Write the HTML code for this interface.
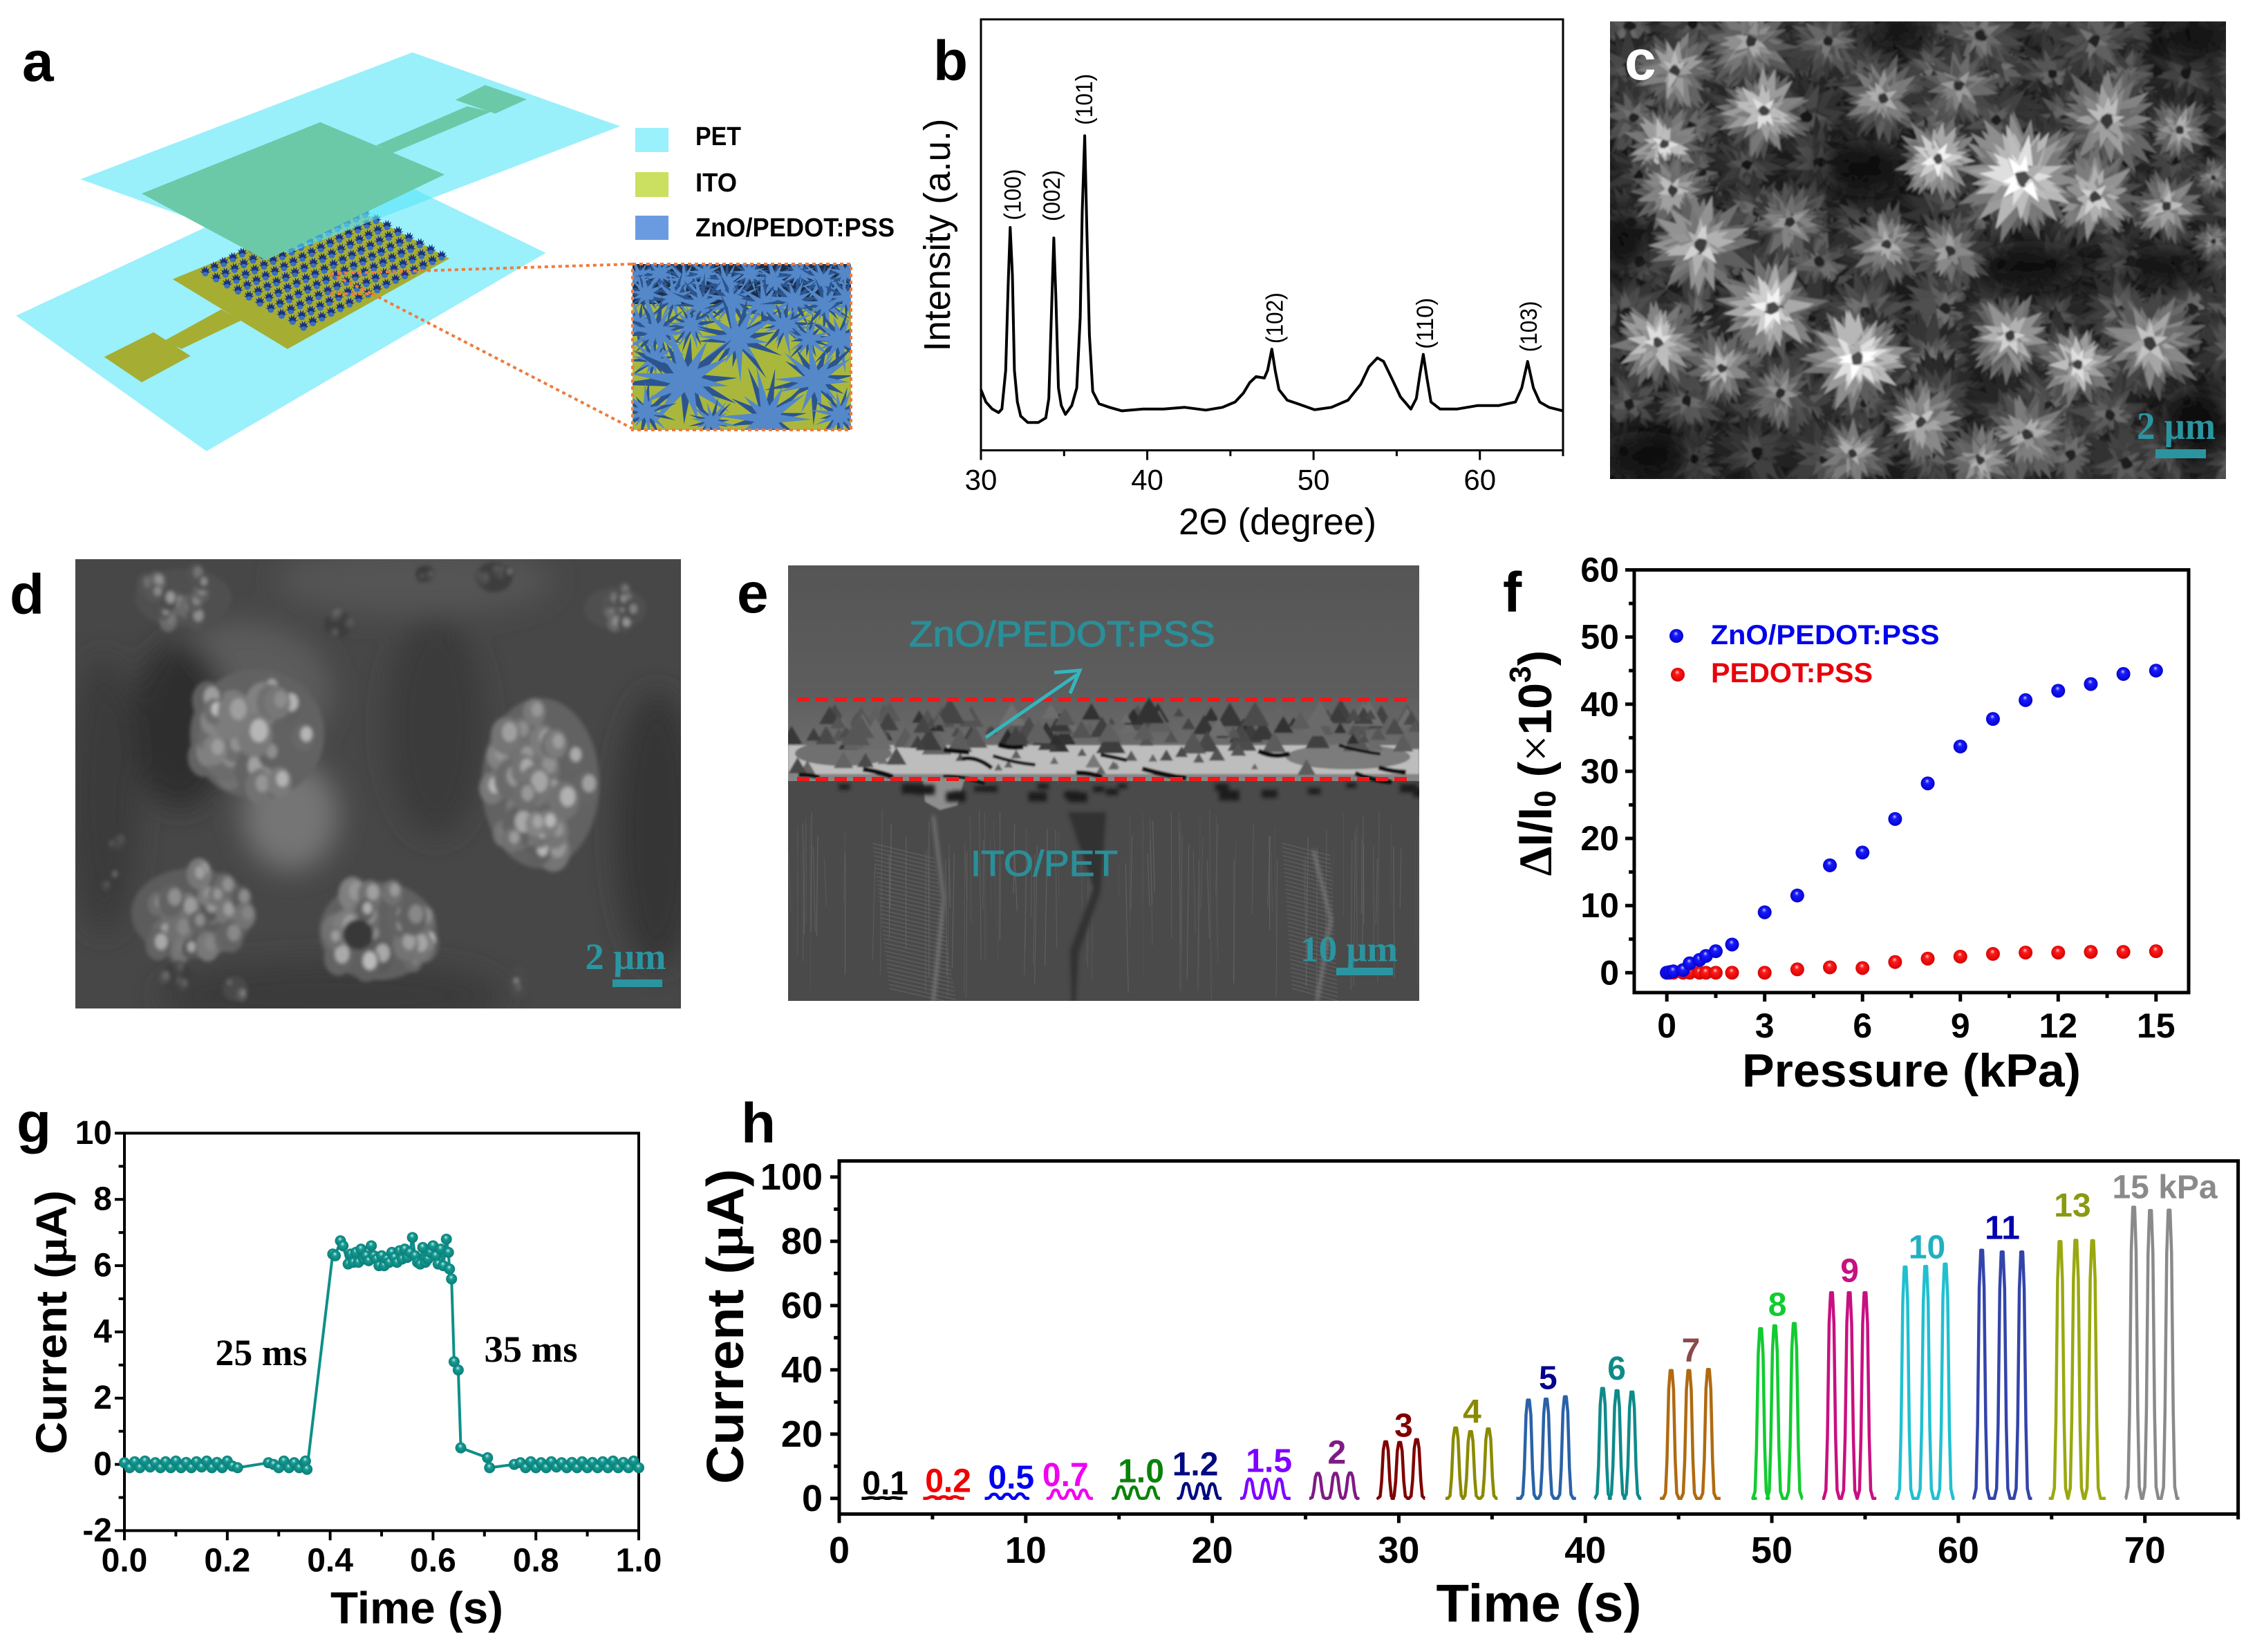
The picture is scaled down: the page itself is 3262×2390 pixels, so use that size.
<!DOCTYPE html>
<html lang="en">
<head>
<meta charset="utf-8">
<title>ZnO/PEDOT:PSS pressure sensor figure</title>
<style>
html,body{margin:0;padding:0;background:#fff}
svg{display:block}
text{font-family:"Liberation Sans",sans-serif}
.serif{font-family:"Liberation Serif",serif}
.letter{font-weight:700;font-size:82px;fill:#000}
</style>
</head>
<body>
<svg id="root" xmlns="http://www.w3.org/2000/svg" width="3262" height="2390" viewBox="0 0 3262 2390">
<defs>
<radialGradient id="ballBlue" cx=".5" cy=".5" r=".55" fx=".45" fy=".3"><stop offset="0" stop-color="#c8c8ff"/><stop offset=".3" stop-color="#1a1aff"/><stop offset="1" stop-color="#0000c8"/></radialGradient>
<radialGradient id="ballRed" cx=".5" cy=".5" r=".55" fx=".45" fy=".3"><stop offset="0" stop-color="#ffd0d0"/><stop offset=".3" stop-color="#ff1a1a"/><stop offset="1" stop-color="#d00000"/></radialGradient>
<radialGradient id="ballTeal" cx=".5" cy=".5" r=".55" fx=".45" fy=".3"><stop offset="0" stop-color="#c8f0ec"/><stop offset=".35" stop-color="#149a92"/><stop offset="1" stop-color="#0a7a74"/></radialGradient>
<filter id="blur1" x="-5%" y="-5%" width="110%" height="110%"><feGaussianBlur stdDeviation="1.3"/></filter>
<filter id="blur3" x="-20%" y="-20%" width="140%" height="140%"><feGaussianBlur stdDeviation="3"/></filter>
<filter id="blur20" x="-50%" y="-50%" width="200%" height="200%"><feGaussianBlur stdDeviation="20"/></filter>
<clipPath id="clipC"><rect x="2329" y="31" width="891" height="662"/></clipPath>
<clipPath id="clipD"><rect x="109" y="809" width="876" height="650"/></clipPath>
<clipPath id="clipE"><rect x="1140" y="818" width="913" height="630"/></clipPath>
<clipPath id="clipInset"><rect x="915" y="382" width="316" height="240"/></clipPath>
<linearGradient id="eTop" x1="0" y1="0" x2="0" y2="1"><stop offset="0" stop-color="#555"/><stop offset="1" stop-color="#5e5e5e"/></linearGradient>
<linearGradient id="eBand" x1="0" y1="0" x2="0" y2="1"><stop offset="0" stop-color="#606060"/><stop offset=".5" stop-color="#6a6a6a"/><stop offset="1" stop-color="#8a8a8a"/></linearGradient>
</defs>
<rect x="0" y="0" width="3262" height="2390" fill="#fff"/>

<!-- Panel a -->
<g>
  <g id="aGroup" transform="scale(0.861,0.459)">
    <polygon points="27,995 591,501 917,797 347,1422" fill="#9af0fb"/>
    <polygon points="175,1125 258,1047 320,1122 238,1205" fill="#a5ae32"/>
    <polygon points="275,1075 372,975 405,1010 305,1100" fill="#a5ae32"/>
    <polygon points="290,880 590,650 755,815 483,1100" fill="#a5ae32"/>
    <g id="aArray"></g>
    <polygon points="135,565 693,165 1042,398 484,798" fill="rgb(90,230,249)" opacity=".62"/>
    <polygon points="632,458 785,335 825,352 660,482" fill="#6cc9a8"/>
    <polygon points="765,315 815,268 885,313 832,358" fill="#6cc9a8"/>
    <polygon points="238,610 538,385 747,550 447,820" fill="#6bc9a8"/>
  </g>
  <rect x="919" y="185" width="48" height="35" fill="#9af0fb"/>
  <rect x="919" y="249" width="48" height="36" fill="#cbe060"/>
  <rect x="919" y="312" width="48" height="35" fill="#6a9be0"/>
  <text x="1006" y="198" font-size="38" font-weight="700" dominant-baseline="central" textLength="66" lengthAdjust="spacingAndGlyphs">PET</text>
  <text x="1006" y="265" font-size="38" font-weight="700" dominant-baseline="central" textLength="60" lengthAdjust="spacingAndGlyphs">ITO</text>
  <text x="1006" y="330" font-size="38" font-weight="700" dominant-baseline="central" textLength="288" lengthAdjust="spacingAndGlyphs">ZnO/PEDOT:PSS</text>
  <g id="aInset" clip-path="url(#clipInset)">
    <rect x="915" y="382" width="316" height="240" fill="#a9b83c"/>
    <rect x="915" y="382" width="316" height="58" fill="#1d2f48"/>
  </g>
  <g fill="none" stroke="#ef7b3d" stroke-width="4" stroke-dasharray="5 5">
    <rect x="915" y="382" width="316" height="240"/>
    <polyline points="478,396 915,382"/>
    <polyline points="478,425 538,425 915,620"/>
    <polyline points="478,396 538,425"/>
  </g>
</g>
<text class="letter" x="32" y="117">a</text>

<!-- Panel b -->
<g id="panelB"></g>
<text class="letter" x="1350" y="116">b</text>

<!-- Panel c -->
<g>
  <g clip-path="url(#clipC)">
    <rect x="2329" y="31" width="891" height="662" fill="#1a1a1a"/>
    <g id="cFlowers" filter="url(#blur1)"></g>
  </g>
  <text class="serif" x="3148" y="617" font-size="56" font-weight="700" fill="#2a95a0" text-anchor="middle" dominant-baseline="central" textLength="114" lengthAdjust="spacingAndGlyphs">2 μm</text>
  <rect x="3118" y="650" width="73" height="13" fill="#2a95a0"/>
</g>
<text class="letter" x="2350" y="115" style="fill:#fff">c</text>

<!-- Panel d -->
<g>
  <g clip-path="url(#clipD)">
    <rect x="109" y="809" width="876" height="650" fill="#474747"/>
    <g id="dBlobs"></g>
  </g>
  <text class="serif" x="905" y="1384" font-size="54" font-weight="700" fill="#2a95a0" text-anchor="middle" dominant-baseline="central" textLength="117" lengthAdjust="spacingAndGlyphs">2 μm</text>
  <rect x="886" y="1417" width="72" height="11" fill="#2a95a0"/>
</g>
<text class="letter" x="14" y="888">d</text>

<!-- Panel e -->
<g>
  <g clip-path="url(#clipE)">
    <rect x="1140" y="818" width="913" height="200" fill="url(#eTop)"/>
    <rect x="1140" y="1010" width="913" height="125" fill="url(#eBand)"/>
    <rect x="1140" y="1130" width="913" height="320" fill="#4a4a4a"/>
    <g id="eDetail"></g>
  </g>
  <line x1="1153" y1="1012" x2="2038" y2="1012" stroke="#f01818" stroke-width="6" stroke-dasharray="18 9"/>
  <line x1="1153" y1="1127" x2="2038" y2="1127" stroke="#f01818" stroke-width="6" stroke-dasharray="18 9"/>
  <line x1="1426" y1="1067" x2="1558" y2="976" stroke="#35b5bd" stroke-width="5"/>
  <polyline points="1525,973 1562,970 1548,1003" fill="none" stroke="#35b5bd" stroke-width="5"/>
  <text x="1315" y="918" font-size="52" fill="#2a8f98" stroke="#2a8f98" stroke-width="1.2" dominant-baseline="central" textLength="443" lengthAdjust="spacingAndGlyphs">ZnO/PEDOT:PSS</text>
  <text x="1404" y="1250" font-size="52" fill="#2a8f98" stroke="#2a8f98" stroke-width="1.2" dominant-baseline="central" textLength="213" lengthAdjust="spacingAndGlyphs">ITO/PET</text>
  <text class="serif" x="1881" y="1374" font-size="52" font-weight="700" fill="#2a95a0" dominant-baseline="central" textLength="141" lengthAdjust="spacingAndGlyphs">10 μm</text>
  <rect x="1933" y="1400" width="82" height="11" fill="#2a95a0"/>
</g>
<text class="letter" x="1066" y="886">e</text>

<!-- Panel f -->
<g id="panelF"></g>
<text class="letter" x="2174" y="885">f</text>

<!-- Panel g -->
<g id="panelG"></g>
<text class="letter" x="24" y="1652">g</text>

<!-- Panel h -->
<g id="panelH"></g>
<text class="letter" x="1072" y="1653">h</text>
</svg>

<script>
/* ===== Panel b data ===== */
const xrdTheta = [30.00,30.30,30.68,31.06,31.26,31.49,31.64,31.76,31.89,32.01,32.19,32.39,32.82,33.45,33.90,34.08,34.23,34.38,34.51,34.66,34.83,35.08,35.46,35.76,35.97,36.09,36.24,36.37,36.52,36.72,37.10,37.73,38.48,39.74,40.99,42.26,43.52,44.52,45.28,45.78,46.16,46.54,47.04,47.24,47.49,47.69,47.92,48.42,49.05,50.06,51.07,52.07,52.83,53.33,53.84,54.21,54.72,55.22,55.85,56.18,56.40,56.60,56.81,57.06,57.61,58.62,59.88,61.14,62.14,62.52,62.87,63.22,63.60,64.16,65.00];
const xrdIntensity = [172,137,117,107,117,227,477,632,497,227,137,97,79,79,92,147,377,602,427,177,127,102,127,177,377,677,892,627,327,167,132,122,112,117,117,122,114,122,137,162,192,209,205,227,287,227,172,142,132,115,122,142,187,237,262,252,202,152,117,147,217,272,207,137,117,117,127,127,137,177,252,177,137,122,112];
const xrdMajorTicks = [30,40,50,60];
const xrdMinorTicks = [35,45,55,65];
const xrdPeakLabels = ['(100)','(002)','(101)','(102)','(110)','(103)'];
const xrdPeakTheta = [31.94,34.28,36.24,47.69,56.73,62.97];
const xrdPeakLevel = [725,722,995,375,360,351];

/* ===== Panel f data ===== */
const fPressureBlue = [0,0.1,0.2,0.5,0.7,1,1.2,1.5,2,3,4,5,6,7,8,9,10,11,12,13,14,15];
const fBlue = [0,0.1,0.2,0.4,1.4,1.9,2.5,3.2,4.2,9,11.5,16,17.9,22.9,28.2,33.7,37.8,40.6,42,43,44.5,45];
const fPressureRed = [0,0.1,0.2,0.5,0.7,1,1.2,1.5,2,3,4,5,6,7,8,9,10,11,12,13,14,15];
const fRed = [0,0,0,0,0,0,0,0,0,0,0.5,0.8,0.7,1.6,2.1,2.4,2.8,3,3,3.1,3.1,3.2];
const fXMajor = [0,3,6,9,12,15];
const fXMinor = [1.5,4.5,7.5,10.5,13.5];
const fYMajor = [0,10,20,30,40,50,60];
const fYMinor = [5,15,25,35,45,55];

/* ===== Panel g data ===== */
const gTime = [0,0.01,0.02,0.03,0.04,0.05,0.06,0.07,0.08,0.09,0.10,0.11,0.12,0.13,0.14,0.15,0.16,0.17,0.18,0.19,0.20,0.21,0.22,0.28,0.29,0.30,0.31,0.32,0.33,0.34,0.35,0.352,0.355,0.405,0.41,0.42,0.425,0.435,0.44,0.445,0.45,0.455,0.46,0.465,0.47,0.475,0.48,0.485,0.49,0.495,0.50,0.505,0.51,0.515,0.52,0.525,0.53,0.535,0.54,0.545,0.55,0.555,0.56,0.565,0.57,0.575,0.58,0.585,0.59,0.595,0.60,0.605,0.61,0.615,0.62,0.626,0.63,0.632,0.636,0.641,0.649,0.654,0.706,0.71,0.758,0.77,0.78,0.79,0.80,0.81,0.82,0.83,0.84,0.85,0.86,0.87,0.88,0.89,0.90,0.91,0.92,0.93,0.94,0.95,0.96,0.97,0.98,0.99,1.0];
const gCurrent = [0.05,-0.1,0.08,-0.1,0.1,-0.08,0.05,-0.1,0.08,-0.1,0.1,-0.1,0.06,-0.1,0.08,-0.08,0.1,-0.1,0.06,-0.1,0.1,-0.05,-0.1,0.05,0,-0.1,0.1,-0.1,0.05,-0.1,0.05,0.1,-0.15,6.35,6.3,6.75,6.6,6.05,6.35,6.1,6.4,6.1,6.5,6.2,6.3,6.15,6.6,6.3,6.2,6,6.3,6,6.2,6.1,6.4,6.25,6.1,6.45,6.2,6.5,6.25,6.4,6.85,6.3,6.1,6.05,6.55,6.1,6.2,6.4,6.6,6.3,6.05,6.5,6,6.8,6.4,5.9,5.6,3.1,2.85,0.5,0.2,-0.1,0,0.05,-0.1,0.08,-0.1,0.05,-0.1,0.08,-0.08,0.05,-0.1,0.06,-0.1,0.08,-0.1,0.06,-0.1,0.08,-0.1,0.1,-0.1,0.06,-0.1,0.1,-0.1];
const gXMajor = [0,0.2,0.4,0.6,0.8,1];
const gXMinor = [0.1,0.3,0.5,0.7,0.9];
const gYMajor = [-2,0,2,4,6,8,10];
const gYMinor = [-1,1,3,5,7,9];

/* ===== Panel h data ===== */
const hLabels = ['0.1','0.2','0.5','0.7','1.0','1.2','1.5','2','3','4','5','6','7','8','9','10','11','13','15 kPa'];
const hStart = [1.2,4.5,7.8,11.2,14.7,18.2,21.5,25.2,28.9,32.5,36.3,40.5,44.0,49.2,52.7,56.6,60.85,64.85,68.95];
const hEnd = [3.4,6.7,10.1,13.6,17.2,20.5,24.2,27.7,31.4,35.3,39.5,43.0,47.25,51.65,55.6,59.8,63.95,67.9,71.85];
const hPeakTimes = [[1.7,2.3,2.9],[5,5.6,6.2],[8.3,9,9.7],[11.6,12.4,13.1],[15.1,15.8,16.75],[18.6,19.35,20],[22,22.85,23.6],[25.66,26.6,27.4],[29.3,30.05,30.96],[33.05,33.85,34.8],[36.95,37.9,38.93],[40.93,41.7,42.5],[44.6,45.55,46.6],[49.4,50.16,51.2],[53.2,54.15,55],[57.15,58.25,59.3],[61.25,62.35,63.4],[65.45,66.3,67.2],[69.4,70.3,71.3]];
const hPeakHeights = [[0.2,0.2,0.2],[0.5,0.5,0.5],[1.3,1.3,1.4],[2.6,2.6,2.6],[3.6,3.5,3.5],[4.6,4.5,4.5],[6,5.9,6],[7.8,7.8,7.9],[17.6,17.4,18.3],[21.9,20.8,21.6],[30.6,30.9,31.6],[34.2,33.5,33.1],[39.8,39.8,40.1],[52.8,53.7,54.4],[64,64,64],[72,72.2,72.9],[77.2,76.7,76.7],[79.9,80.3,80.2],[90.6,89.6,89.7]];
const hLabelTime = [2.47,5.84,9.22,12.13,16.18,19.09,23.04,26.68,30.26,33.93,38.0,41.68,45.66,50.3,54.17,58.32,62.36,66.12,71.07];
const hLabelLevel = [4.6,5.3,6.4,7.2,8.3,10.5,11.6,14.1,22.5,26.8,37.4,40.3,45.9,60.2,70.7,78,84,91,96.7];
const hTraceColors = ['#000','#f00000','#0000f0','#f000f0','#0a820a','#000a80','#8000ff','#7f1a85','#800000','#8a8a00','#2a62a8','#0f8a8a','#b06a10','#10cc30','#c81080','#20c0d0','#3344aa','#9aa810','#8a8a8a'];
const hLabelColors = ['#000','#f00000','#0000f0','#f000f0','#0a820a','#000a80','#8000ff','#7f1a85','#800000','#8a8a00','#00008b','#0f8a8a','#8a4a4a','#10cc30','#c81080','#20b0c0','#0000b0','#8a9a10','#8a8a8a'];
const pulseOffset = [-0.42,-0.3,-0.22,-0.13,-0.05,0.05,0.13,0.22,0.3,0.42];
const pulseFraction = [0,0.04,0.3,0.85,1,1,0.85,0.3,0.04,0];
const hXMajor = [0,10,20,30,40,50,60,70];
const hXMinor = [5,15,25,35,45,55,65,75];
const hYMajor = [0,20,40,60,80,100];
const hYMinor = [10,30,50,70,90];

/* ===== helpers ===== */
const NS = 'http://www.w3.org/2000/svg';
function mk(tag, attrs, parent){
  const e = document.createElementNS(NS, tag);
  for (const k in attrs) e.setAttribute(k, attrs[k]);
  if (parent) parent.appendChild(e);
  return e;
}
function scale(d0,d1,r0,r1){ return v => r0 + (v-d0)*(r1-r0)/(d1-d0); }
let seed = 12345;
function rnd(){ seed = (seed*1664525 + 1013904223) % 4294967296; return seed/4294967296; }
function gray(v){ v=Math.max(0,Math.min(255,Math.round(v))); return 'rgb('+v+','+v+','+v+')'; }

/* draws frame, ticks and tick labels */
function axes(parent,o){
  const frame = mk('rect',{x:o.left,y:o.top,width:o.right-o.left,height:o.bottom-o.top,fill:'none',stroke:'#000','stroke-width':o.sw},parent);
  
  
  o.xMajor.forEach(v=>{
    const t = mk('line',{x1:o.sx(v),x2:o.sx(v),y1:o.bottom,y2:o.bottom+o.tick,stroke:'#000','stroke-width':o.sw},parent);
    
    
    const l = mk('text',{x:o.sx(v),y:o.xLabelY,'font-size':o.fs,'font-weight':o.weight,'text-anchor':'middle','dominant-baseline':'central'},parent);
    l.textContent = o.xFmt?o.xFmt(v):v;
    
    
  });
  o.xMinor.forEach(v=>{
    const t = mk('line',{x1:o.sx(v),x2:o.sx(v),y1:o.bottom,y2:o.bottom+o.tick*.6,stroke:'#000','stroke-width':o.sw},parent);
    
    
  });
  (o.yMajor||[]).forEach(v=>{
    const t = mk('line',{x1:o.left,x2:o.left-o.tick,y1:o.sy(v),y2:o.sy(v),stroke:'#000','stroke-width':o.sw},parent);
    
    
    const l = mk('text',{x:o.yLabelX,y:o.sy(v),'font-size':o.fs,'font-weight':o.weight,'text-anchor':'end','dominant-baseline':'central'},parent);
    l.textContent = v;
    
    
  });
  (o.yMinor||[]).forEach(v=>{
    const t = mk('line',{x1:o.left,x2:o.left-o.tick*.6,y1:o.sy(v),y2:o.sy(v),stroke:'#000','stroke-width':o.sw},parent);
    
    
  });
}
function vText(parent,x,y,html,fs,weight,len,name){
  const t = mk('text',{x:x,y:y,'font-size':fs,'font-weight':weight,'text-anchor':'middle','dominant-baseline':'central',transform:'rotate(-90 '+x+' '+y+')'},parent);
  if(len){t.setAttribute('textLength',len);t.setAttribute('lengthAdjust','spacingAndGlyphs');}
  t.innerHTML = html;
  
  
  return t;
}
function hText(parent,x,y,str,fs,weight,len,name){
  const t = mk('text',{x:x,y:y,'font-size':fs,'font-weight':weight,'text-anchor':'middle','dominant-baseline':'central'},parent);
  if(len){t.setAttribute('textLength',len);t.setAttribute('lengthAdjust','spacingAndGlyphs');}
  t.textContent = str;
  
  
  return t;
}

/* ===== Panel b ===== */
(function(){
  const p = document.getElementById('panelB');
  const sx = scale(30,65,1419,2261), sy = scale(0,1222,651.5,28);
  axes(p,{left:1419,right:2261,top:28,bottom:651.5,sw:3,tick:14,sx:sx,sy:sy,xMajor:xrdMajorTicks,xMinor:xrdMinorTicks,xLabelY:694,fs:42,weight:400});
  const line = mk('polyline',{points:xrdTheta.map((t,i)=>sx(t).toFixed(1)+','+sy(xrdIntensity[i]).toFixed(1)).join(' '),fill:'none',stroke:'#000','stroke-width':4,'stroke-linejoin':'round'},p);
  
  
  xrdPeakLabels.forEach((s,i)=>{
    vText(p,sx(xrdPeakTheta[i]),sy(xrdPeakLevel[i]),s,34,400,74,'peak-label');
  });
  hText(p,1848,755,'2Θ (degree)',54,400,286,'x-axis-title');
  vText(p,1356,340,'Intensity (a.u.)',54,400,337,'y-axis-title');
})();

/* ===== Panel f ===== */
(function(){
  const p = document.getElementById('panelF');
  const sx = scale(-1,16,2364,3166), sy = scale(-2.96,60,1436,824.5);
  axes(p,{left:2364,right:3166,top:824.5,bottom:1436,sw:5,tick:13,sx:sx,sy:sy,xMajor:fXMajor,xMinor:fXMinor,yMajor:fYMajor,yMinor:fYMinor,xLabelY:1484,yLabelX:2342,fs:50,weight:700});
  fPressureRed.forEach((x,i)=>{
    const c = mk('circle',{cx:sx(x),cy:sy(fRed[i]),r:10,fill:'url(#ballRed)'},p);
    
    
  });
  fPressureBlue.forEach((x,i)=>{
    const c = mk('circle',{cx:sx(x),cy:sy(fBlue[i]),r:10,fill:'url(#ballBlue)'},p);
    
    
  });
  const m1 = mk('circle',{cx:2425,cy:920,r:10,fill:'url(#ballBlue)'},p);
  
  
  const m2 = mk('circle',{cx:2427,cy:976,r:10,fill:'url(#ballRed)'},p);
  
  
  const t1 = hText(p,2640,919,'ZnO/PEDOT:PSS',40,700,331,'legend-label-zno-pedot-pss');
  t1.setAttribute('fill','#0000ee');
  const t2 = hText(p,2592,974,'PEDOT:PSS',40,700,234,'legend-label-pedot-pss');
  t2.setAttribute('fill','#e8000c');
  hText(p,2765,1549,'Pressure (kPa)',68,700,490,'x-axis-title');
  vText(p,2221,1104,'<tspan font-family="Liberation Serif">Δ</tspan>I/I<tspan font-size="44" dy="14">0</tspan><tspan dy="-14"> (</tspan><tspan font-family="Liberation Serif" font-weight="400">×</tspan>10<tspan font-size="44" dy="-22">3</tspan><tspan dy="22">)</tspan>',68,700,0,'y-axis-title');
})();

/* ===== Panel g ===== */
(function(){
  const p = document.getElementById('panelG');
  const sx = scale(0,1,180,924), sy = scale(-2,10,2214.4,1639.4);
  axes(p,{left:180,right:924,top:1639.4,bottom:2214.4,sw:4,tick:14,sx:sx,sy:sy,xMajor:gXMajor,xMinor:gXMinor,yMajor:gYMajor,yMinor:gYMinor,xFmt:v=>v.toFixed(1),xLabelY:2258,yLabelX:162,fs:48,weight:700});
  const line = mk('polyline',{points:gTime.map((t,i)=>sx(t).toFixed(1)+','+sy(gCurrent[i]).toFixed(1)).join(' '),fill:'none',stroke:'#0e8f88','stroke-width':4,'stroke-linejoin':'round'},p);
  
  
  gTime.forEach((t,i)=>{
    const c = mk('circle',{cx:sx(t),cy:sy(gCurrent[i]),r:8,fill:'url(#ballTeal)'},p);
    
    
  });
  const a = hText(p,378,1957,'25 ms',54,700,133,'annotation-rise-time');
  a.setAttribute('class','serif');
  const b = hText(p,768,1952,'35 ms',54,700,135,'annotation-fall-time');
  b.setAttribute('class','serif');
  hText(p,603,2326,'Time (s)',65,700,250,'x-axis-title');
  vText(p,75,1913,'Current (<tspan font-family="Liberation Serif">μ</tspan>A)',63,700,382,'y-axis-title');
})();

/* ===== Panel h ===== */
(function(){
  const p = document.getElementById('panelH');
  const sx = scale(0,75,1214,3237.6), sy = scale(-4.87,105,2190.4,1679.6);
  axes(p,{left:1214,right:3237.6,top:1679.6,bottom:2190.4,sw:5,tick:13,sx:sx,sy:sy,xMajor:hXMajor,xMinor:hXMinor,yMajor:hYMajor,yMinor:hYMinor,xLabelY:2243,yLabelX:1190,fs:54,weight:700});
  hLabels.forEach((lab,i)=>{
    const pts = [[hStart[i],0]];
    hPeakTimes[i].forEach((t,k)=>{
      pulseOffset.forEach((o,j)=>{
        pts.push([t+o,hPeakHeights[i][k]*pulseFraction[j]]);
      });
    });
    pts.push([hEnd[i],0]);
    const line = mk('polyline',{points:pts.map(q=>sx(q[0]).toFixed(1)+','+sy(q[1]).toFixed(1)).join(' '),fill:'none',stroke:hTraceColors[i],'stroke-width':4.5,'stroke-linejoin':'round'},p);
    
    
    const t = hText(p,sx(hLabelTime[i]),sy(hLabelLevel[i]),lab,48,700,0,'pressure-label');
    t.setAttribute('fill',hLabelColors[i]);
  });
  hText(p,2226,2320,'Time (s)',77,700,297,'x-axis-title');
  vText(p,1049,1919,'Current (<tspan font-family="Liberation Serif">μ</tspan>A)',75,700,456,'y-axis-title');
})();

/* ===== Panel a details ===== */
(function(){
  const g = document.getElementById('aArray');
  const cols = 16, rows = 10;
  const ox=335, oy=862, ux=165/(rows-1), uy=172/(rows-1), vx=232/(cols-1), vy=-222/(cols-1);
  for(let r=0;r<rows;r++){
    for(let c=0;c<cols;c++){
      const x=ox+ux*r+vx*c+10, y=oy+uy*r+vy*c;
      let d='';
      for(let k=0;k<6;k++){
        const a=-Math.PI*(.1+.8*k/5);
        const tx=x+Math.cos(a)*10, ty=y+Math.sin(a)*24;
        d+='M'+(x-4)+' '+y+'L'+tx.toFixed(1)+' '+ty.toFixed(1)+'L'+(x+4)+' '+y+'Z';
      }
      mk('path',{d:d,fill:'#1a3080'},g);
      mk('ellipse',{cx:x,cy:y+2,rx:5,ry:7,fill:'#3a6fc0'},g);
    }
  }
  const inset = document.getElementById('aInset');
  const stars = [[925,400,34],[955,395,36],[990,405,40],[1020,395,36],[1050,410,44],[1085,395,36],[1120,405,44],[1155,395,36],[1190,405,44],[1222,395,34],[935,425,42],[975,430,44],[1015,440,48],[1060,435,48],[1105,440,48],[1150,435,48],[1195,440,46],[1225,430,40],[925,470,46],[950,480,56],[1000,470,44],[1068,490,72],[1135,470,48],[1215,490,58],[1170,490,42],[945,520,44],[993,550,98],[1180,550,76],[1110,605,80],[935,595,48],[1030,610,40],[1215,600,48]];
  stars.forEach(s=>{
    let dark='', light='';
    const n=20;
    for(let k=0;k<n;k++){
      const a=k/n*Math.PI*2+rnd()*.3;
      const R=s[2]*(.6+.5*rnd());
      const w=s[2]*.1;
      const px=-Math.sin(a)*w, py=Math.cos(a)*w;
      const tip=(s[0]+Math.cos(a)*R).toFixed(1)+' '+(s[1]+Math.sin(a)*R*.9).toFixed(1);
      const seg='M'+(s[0]+px).toFixed(1)+' '+(s[1]+py).toFixed(1)+'L'+tip+'L'+(s[0]-px).toFixed(1)+' '+(s[1]-py).toFixed(1)+'Z';
      if(k%2) dark+=seg; else light+=seg;
    }
    mk('path',{d:dark,fill:'#2c5590'},inset);
    mk('path',{d:light,fill:'#5488c8'},inset);
  });
})();

/* ===== Panel c texture ===== */
(function(){
  const g = document.getElementById('cFlowers');
  function flower(zx,zy,zr,b){
    const cx=2300+.6135*zx, cy=.459*zy, r=zr*.62;
    mk('circle',{cx:cx,cy:cy,r:r*.7,fill:gray(b*100)},g);
    [[1,36,.6],[.86,32,.78],[.64,26,.95],[.42,16,1.12]].forEach(L=>{
      const ds=['','',''];
      for(let k=0;k<L[1];k++){
        const a=rnd()*Math.PI*2, R=r*L[0]*(.72+.38*rnd()), w=R*.17+1.5;
        const bx=cx+Math.cos(a)*R*.3, by=cy+Math.sin(a)*R*.3;
        const px=-Math.sin(a)*w, py=Math.cos(a)*w;
        ds[k%3]+='M'+(bx+px).toFixed(1)+' '+(by+py).toFixed(1)+'L'+(cx+Math.cos(a)*R).toFixed(1)+' '+(cy+Math.sin(a)*R).toFixed(1)+'L'+(bx-px).toFixed(1)+' '+(by-py).toFixed(1)+'Z';
      }
      ds.forEach((d,i)=>mk('path',{d:d,fill:gray(b*255*L[2]*[.78,1,1.18][i])},g));
    });
  }
  /* dim background filler */
  for(let ix=0;ix<11;ix++){
    for(let iy=0;iy<10;iy++){
      flower(60+ix*145+rnd()*60,50+iy*150+rnd()*60,95+rnd()*30,.22+rnd()*.12);
    }
  }
  const holes = mk('g',{filter:'url(#blur20)'},g);
  [[650,530,110,90],[1040,840,130,80],[1350,840,90,70],[80,760,60,110],[1430,110,90,70],[720,90,70,60],[1430,1330,90,120],[130,1440,120,80],[1000,830,100,60]].forEach(h=>{
    mk('ellipse',{cx:2300+.6135*h[0],cy:.459*h[1],rx:h[2]*.6135,ry:h[3]*.459,fill:'#0e0e0e'},holes);
  });
  [[200,220,105,.55],[380,130,120,.5],[560,130,100,.36],[920,110,120,.36],[1190,130,110,.34],[410,350,110,.66],[690,310,100,.52],[870,270,100,.46],[175,455,95,.66],[195,600,100,.56],[1220,380,130,.56],[1390,410,80,.52],[470,700,100,.46],[700,770,100,.52],[850,790,100,.48],[260,770,130,.62],[1360,650,90,.56],[1190,620,115,.62],[820,500,100,.72],[1020,560,150,.78],[1470,560,55,.42],[1470,760,55,.42],[430,970,125,.72],[160,1080,110,.66],[310,1160,90,.56],[630,1130,125,.78],[990,1060,105,.62],[1150,1150,100,.66],[1320,1080,130,.58],[780,1330,105,.58],[450,1240,95,.44],[1030,1370,110,.52],[620,1430,90,.52],[920,1450,90,.52]].forEach(a=>flower(a[0],a[1],a[2],a[3]));
})();

/* ===== Panel d texture ===== */
(function(){
  const g = document.getElementById('dBlobs');
  const halo = mk('g',{filter:'url(#blur20)'},g);
  mk('ellipse',{cx:350,cy:1000,rx:130,ry:100,fill:'#5c5c5c'},halo);
  mk('ellipse',{cx:420,cy:1180,rx:70,ry:80,fill:'#747474'},halo);
  mk('ellipse',{cx:260,cy:1050,rx:70,ry:120,fill:'#2f2f2f'},halo);
  mk('ellipse',{cx:630,cy:1050,rx:70,ry:160,fill:'#3a3a3a'},halo);
  mk('ellipse',{cx:950,cy:1200,rx:60,ry:200,fill:'#353535'},halo);
  mk('ellipse',{cx:150,cy:1150,rx:50,ry:200,fill:'#3a3a3a'},halo);
  mk('ellipse',{cx:480,cy:1440,rx:250,ry:50,fill:'#3a3a3a'},halo);
  mk('ellipse',{cx:600,cy:840,rx:200,ry:50,fill:'#555'},halo);
  const blobs = mk('g',{filter:'url(#blur3)'},g);
  function cluster(cx,cy,rx,ry,n,br){
    mk('ellipse',{cx:cx,cy:cy,rx:rx,ry:ry,fill:gray(br*.48)},blobs);
    for(let k=0;k<n;k++){
      const a=rnd()*Math.PI*2, q=Math.sqrt(rnd());
      const x=cx+Math.cos(a)*q*rx*.9, y=cy+Math.sin(a)*q*ry*.9;
      const s=Math.min(rx,ry)*(.12+.12*rnd())+4;
      mk('ellipse',{cx:x,cy:y,rx:s,ry:s*1.25,fill:gray(br*(.45+.2*rnd()))},blobs);
      mk('ellipse',{cx:x+s*.25,cy:y-s*.25,rx:s*.5,ry:s*.65,fill:gray(br*(.68+.25*rnd()))},blobs);
    }
  }
  cluster(372,1062,97,94,34,205);
  cluster(782,1133,85,123,36,205);
  cluster(278,1321,88,65,32,190);
  cluster(547,1347,85,71,26,200);
  mk('ellipse',{cx:518,cy:1352,rx:22,ry:22,fill:'#383838'},blobs);
  cluster(265,865,70,42,18,165);
  cluster(890,880,45,30,12,165);
  cluster(489,904,20,20,4,130);
  cluster(255,1413,25,20,4,130);
  cluster(160,1210,18,18,3,120);
  cluster(160,1275,16,14,2,120);
  cluster(750,1422,15,25,3,150);
  cluster(340,1430,18,18,3,150);
  cluster(615,830,14,12,2,120);
  cluster(715,835,26,22,5,130);
})();

/* ===== Panel e texture ===== */
(function(){
  const g = document.getElementById('eDetail');
  const band = mk('g',{filter:'url(#blur1)'},g);
  mk('rect',{x:1140,y:1078,width:913,height:42,fill:'#bdbdbd'},band);
  mk('ellipse',{cx:1220,cy:1090,rx:70,ry:18,fill:'#707070'},band);
  mk('ellipse',{cx:1950,cy:1095,rx:90,ry:18,fill:'#7c7c7c'},band);
  for(let k=0;k<150;k++){
    const x=1140+rnd()*913, y=1030+rnd()*48, s=6+rnd()*16;
    const v=42+rnd()*70;
    mk('polygon',{points:(x-s)+','+(y+s*.7)+' '+x+','+(y-s)+' '+(x+s)+','+(y+s*.7),fill:gray(v)},band);
  }
  for(let k=0;k<26;k++){
    const x=1150+rnd()*880, y=1085+rnd()*30, s=5+rnd()*10;
    mk('polygon',{points:(x-s)+','+(y+s*.7)+' '+x+','+(y-s)+' '+(x+s)+','+(y+s*.7),fill:gray(70+rnd()*50)},band);
  }
  for(let k=0;k<14;k++){
    const x=1150+rnd()*880, y=1075+rnd()*50, s=25+rnd()*40;
    mk('path',{d:'M'+x+' '+y+'q'+(s*.5)+' '+(rnd()*16-4)+' '+s+' '+(rnd()*14),fill:'none',stroke:'#0e0e0e','stroke-width':4+rnd()*3},band);
  }
  mk('polygon',{points:'1335,1128 1395,1128 1385,1165 1360,1172 1338,1160',fill:'#8e8e8e'},band);
  const low = mk('g',{},g);
  for(let k=0;k<110;k++){
    const x=1140+rnd()*913;
    mk('line',{x1:x,y1:1170+rnd()*80,x2:x+rnd()*8-4,y2:1290+rnd()*160,stroke:gray(85+rnd()*35),'stroke-width':1.2,opacity:.5},low);
  }
  for(let k=0;k<36;k++){
    const y=1220+k*6;
    mk('line',{x1:1262+(k*.7),y1:y,x2:1352+(k*.9),y2:y+22,stroke:'#6c6c6c','stroke-width':1.5,opacity:.55},low);
    mk('line',{x1:1855+(k*.4),y1:y,x2:1925+(k*.3),y2:y+18,stroke:'#6c6c6c','stroke-width':1.5,opacity:.55},low);
  }
  const dark = mk('g',{filter:'url(#blur3)'},low);
  mk('polygon',{points:'1545,1175 1600,1175 1592,1290 1560,1380 1556,1450 1550,1450 1548,1375 1582,1285',fill:'#303030'},dark);
  mk('polyline',{points:'1350,1180 1365,1300 1350,1450',fill:'none',stroke:'#8a8a8a','stroke-width':3},dark);
  mk('polyline',{points:'1900,1230 1925,1330 1905,1450',fill:'none',stroke:'#8a8a8a','stroke-width':3},dark);
  for(let k=0;k<24;k++){
    const x=1140+rnd()*913, s=6+rnd()*10;
    mk('rect',{x:x,y:1132+rnd()*16,width:s*2,height:s,fill:'#1c1c1c'},dark);
  }
})();
</script>
</body>
</html>
